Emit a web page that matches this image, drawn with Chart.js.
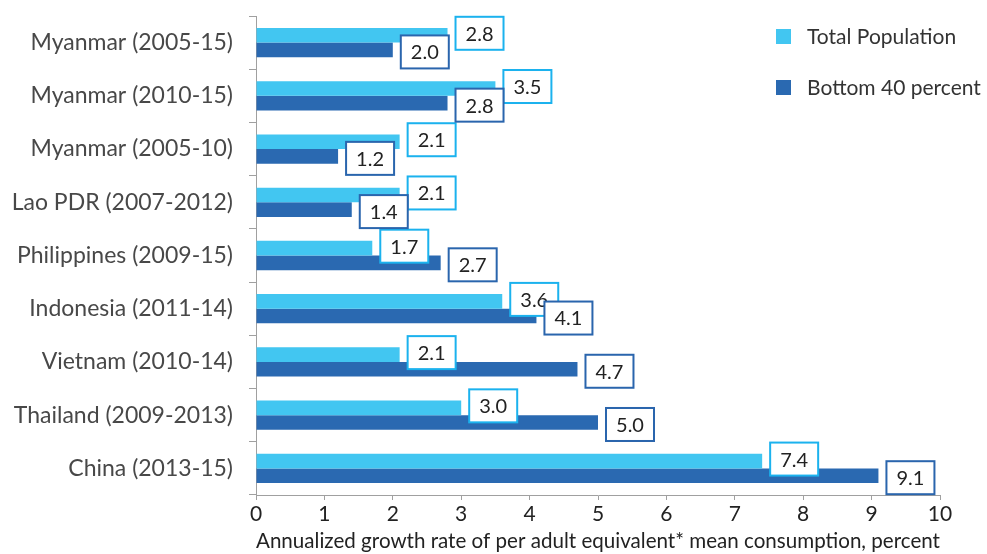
<!DOCTYPE html>
<html>
<head>
<meta charset="utf-8">
<script src="https://cdn.jsdelivr.net/npm/chart.js@4/dist/chart.umd.min.js"></script>
<style>
  html, body { margin: 0; padding: 0; background: #fff; }
  #wrap { width: 987px; height: 554px; position: relative; }
</style>
</head>
<body>
<div id="wrap"><canvas id="chart"></canvas></div>
<script>
const categories = [
  'Myanmar (2005-15)', 'Myanmar (2010-15)', 'Myanmar (2005-10)',
  'Lao PDR (2007-2012)', 'Philippines (2009-15)', 'Indonesia (2011-14)',
  'Vietnam (2010-14)', 'Thailand (2009-2013)', 'China (2013-15)'
];
const totalPopulation = [2.8, 3.5, 2.1, 2.1, 1.7, 3.6, 2.1, 3.0, 7.4];
const bottom40 = [2.0, 2.8, 1.2, 1.4, 2.7, 4.1, 4.7, 5.0, 9.1];
const xTicks = [0, 1, 2, 3, 4, 5, 6, 7, 8, 9, 10];

const FONT = 'Lato, "Open Sans", sans-serif';
const lightBlue = '#42c6f1';
const darkBlue = '#2a69b1';
const lightBorder = '#1bb2ee';
const darkBorder = '#2a65ad';

// boxed value labels next to each bar
const boxLabels = {
  id: 'boxLabels',
  afterDatasetsDraw(chart) {
    const ctx = chart.ctx;
    ctx.save();
    ctx.font = '20px ' + FONT;
    ctx.textAlign = 'center';
    ctx.textBaseline = 'middle';
    chart.data.datasets.forEach((ds, di) => {
      const meta = chart.getDatasetMeta(di);
      const dy = di === 0 ? -2 : 2;
      meta.data.forEach((bar, i) => {
        const txt = ds.data[i].toFixed(1);
        const w = 48, h = 33;
        const x = bar.x + 8;
        const y = bar.y + dy - h / 2;
        ctx.fillStyle = '#fff';
        ctx.fillRect(x, y, w, h);
        ctx.lineWidth = 2;
        ctx.strokeStyle = ds.labelBorder;
        ctx.strokeRect(x, y, w, h);
        ctx.fillStyle = '#222';
        ctx.fillText(txt, x + w / 2, y + h / 2 + 1);
      });
    });
    ctx.restore();
  }
};

// legend in the top right corner
const sideLegend = {
  id: 'sideLegend',
  afterDraw(chart) {
    const ctx = chart.ctx;
    ctx.save();
    ctx.font = '21px ' + FONT;
    ctx.textBaseline = 'middle';
    chart.data.datasets.forEach((ds, i) => {
      const y = 36 + i * 51;
      ctx.fillStyle = ds.backgroundColor;
      ctx.fillRect(776, y - 7, 15, 15);
      ctx.fillStyle = '#333';
      ctx.fillText(ds.label, 807, y + 1);
    });
    ctx.restore();
  }
};

new Chart(document.getElementById('chart'), {
  type: 'bar',
  data: {
    labels: categories,
    datasets: [
      { label: 'Total Population', data: totalPopulation, backgroundColor: lightBlue, labelBorder: lightBorder },
      { label: 'Bottom 40 percent', data: bottom40, backgroundColor: darkBlue, labelBorder: darkBorder }
    ]
  },
  options: {
    indexAxis: 'y',
    responsive: true,
    maintainAspectRatio: false,
    animation: false,
    layout: { padding: { top: 16, right: 47, left: 0, bottom: 0 } },
    categoryPercentage: 0.55,
    barPercentage: 1.0,
    plugins: {
      legend: { display: false },
      tooltip: { enabled: false }
    },
    scales: {
      x: {
        min: 0,
        max: 10,
        afterBuildTicks: (s) => { s.ticks = xTicks.map(v => ({ value: v })); },
        afterFit: (s) => { s.height = 59; },
        border: { color: '#a0a0a0', width: 1 },
        grid: { drawOnChartArea: false, drawTicks: true, tickLength: 5, color: '#a0a0a0' },
        ticks: { color: '#222', font: { family: FONT, size: 21 }, padding: 2 },
        title: {
          display: true,
          text: 'Annualized growth rate of per adult equivalent* mean consumption, percent',
          color: '#222',
          font: { family: FONT, size: 21 },
          padding: { top: 0, bottom: 0 }
        }
      },
      y: {
        afterFit: (s) => { s.width = 256; s.paddingTop = 0; s.paddingBottom = 0; },
        border: { color: '#a0a0a0', width: 1 },
        grid: { drawOnChartArea: false, drawTicks: true, tickLength: 7, color: '#a0a0a0' },
        ticks: { color: '#484848', font: { family: FONT, size: 23 }, padding: 16 }
      }
    }
  },
  plugins: [boxLabels, sideLegend]
});
</script>
</body>
</html>
